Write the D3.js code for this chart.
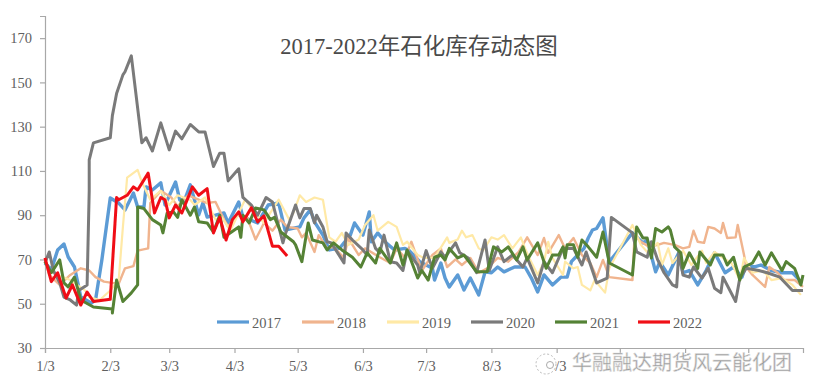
<!DOCTYPE html>
<html><head><meta charset="utf-8">
<script src="https://cdn.jsdelivr.net/npm/d3@7/dist/d3.min.js"></script>
<style>html,body{margin:0;padding:0;background:#fff}svg{display:block}</style>
</head><body><svg id="c" width="813" height="384"></svg>
<script>
const title="2017-2022年石化库存动态图";
const years=["2017","2018","2019","2020","2021","2022"];
const colors=["#5B9BD5","#F0B48E","#FFE9A6","#7A7A7A","#548235","#F00F16"];
const widths=[3.4,2.4,2.2,3,3,3];
const yTicks=[30,50,70,90,110,130,150,170];
// the labels after 9/3 sit under the watermark in the reference and cannot be seen
const xTickLabels=["1/3","2/3","3/3","4/3","5/3","6/3","7/3","8/3","9/3","","",""];
// days are counted from 3 January
const d2017=[0,3,6,9,11,14,17,22,24,27,31,35,38,42,44,47,48,51,55,57,62,64,66,69,73,75,77,81,85,87,92,94,101,106,111,114,121,123.5,126,128,132,135,140,145,147,151,154,155,158,162,166,171,173,178,184,185,188,190,192,196,199,202,206,209,212,215,218,223,228,231,234,237,241,245,248,250,253,256,258,260,262,265,268,279,284,286,290,292,296,301,303,306,310,314,318,323,327,331,333,337,340,345,350,355,359];
const v2017=[68.4,65.3,74.3,77,71.1,66.6,53,50.3,51.7,69.8,97.8,95.5,92.4,100,93.7,93.7,102.8,101.4,104.6,94.6,105,96.9,96,103.7,90.1,95.5,89.2,90,91,86.5,96,89.2,86.5,94.6,95.5,83.3,84.7,88.8,92.4,87,81,74.3,75.2,81,86.5,81,91.5,78,82,77.5,74.3,75,74,69,66,60.7,68.4,61.6,57.6,63,56.2,61.6,54,64.4,64,66.6,64.4,66.6,66.6,61.6,55.3,63,58.5,62,62,69,72,75,79.7,83.3,84,88.8,68.9,82,77.5,78.8,64.4,68.9,63,73,64,65,58.5,65,73,64,66.6,62,67.5,66.6,67.5,65,64,64,60];
const d2018=[0,2,7,12,17,21,24,28,35,38,42,44,49,50,55,60,63,68,73,77,81,85,87,91,96,100,104,108,112,115,120,122,124,128,130,134,137,142,144,149,152,159,164,167,171,174,177,179,184,188,191,195,198,202,206,210,215,220,225,229,234,237,239,244,247,251,255,259,262,265,268,279,280,283,287,291,294,299,303,306,308,310,313,315,318,321,322,324,328,329,332,333,336,342,344,348,351,356,360];
const v2018=[70,63,58.5,63,66,65,62,60,59,66,67,74,75,95.5,101,98,94,99,97,95.5,96,88,84.7,90,89,79,86.5,83,88,84.7,84,80,82,73.4,81,75,75.7,70.7,79.7,72,75,71,68.4,75,70.7,78,70,65,72,75,66.6,70,67.5,70.7,64,66,70.7,69,73.4,80,72,79.7,73,81,75,79.7,72,68.4,62,69.8,62,60.7,81,78,75.7,76.6,77.5,76.6,75,75.7,83,78,77.5,84.7,84,82,86.5,79.7,80,85.6,72,66.6,63,57.6,66.6,64,60.7,60.7,57.6];
const d2019=[0,2,6,12,19,21,26,31,35,37,39,44,46,50,55,59,63,69,71,76,81,84,88,95,99,104,111,116,118,121,124,128,132,135,138,141,144,149,152,156,158,163,167,170,172,177,180,185,191,192,196,198,200,203,206,208,212,215,218,222,226,228,230,234,237,239,241,246,247,251,253,255,259,261,266,268,279,283,286,291,293,296,298,303,307,312,314,318,322,326,330,332,336,341,345,350,355,359];
const v2019=[69,65,63,60.7,56,53,51.7,56,60.7,84.7,107,110.5,105,97,101,94.6,99,97,94.6,98,88,89,83,97,92,86.5,97,88,91,99,96,98,97,80,78,82,76.5,79,85.6,90,83,87,84.7,76.6,78,72,70.7,70.7,80,77.5,79,83,80,81,75,74,80,79,81,75,80,75,70.7,63,69,78,70.7,63,69,66,66.6,58.5,56,60.7,55,66,85.6,76.6,73.4,77.5,67.5,75,68.4,74,67.5,74,68.4,73.4,70.7,68.4,60.7,70.7,64,65,60.7,61.6,58.5,54];
const d2020=[0,2,4,7,9,12,15,16,20,21,21.5,23,31,32,34,37,38,41,46,48,51,55,59,62,65.5,69,73,76.5,80,83,85,87,92,94,98,101,105,108,113,114,119,121,123,126,128,129,132,134,136,142,143,146,151,153,154,157,159,161,164,167,170,172,177,178,181,184,188,190,195,197,201,205,209,211,215,218,222,227,229,234,237,241,246,251,255,257,262,267,269,279,281,286,288,291,294,298,300,301,303,306,308,312,315,318,321,322,328,330,333,339,343,349,355,360];
const v2020=[68.4,73.4,65,59.4,53,51.7,49.4,56,58.5,101,115,122.7,125,135,145,153.4,154.8,162,122.7,125,119,131.7,119.5,128,124.5,131,127.6,127.6,112,118,118,105.5,111,98,94.6,90,98,96,77.5,81,94.6,88.8,93,93,86.5,90,84.7,78,77.5,68.4,82,78.8,74.3,72,83.3,75,73,81,69,68.4,65,74,67.5,64,74,66,73.4,71,77.5,73,70.7,64,78.8,65,75.7,69,72,66.6,70.7,59.4,69,64,75,75,67.5,73.4,59.4,61.6,89,82,73.4,71,78,69.8,64,58.5,57.6,73,63,62,66.6,61.6,66,57,55,62,51,61.6,66,65,64,62,56,56];
const d2021=[0,3,7,9,11,14,17,23,32,32.5,34,37.5,41,44,44.5,47,51,55.5,56.5,58,61,63,65,69,71,73,77,80,83,85.5,92.6,93.6,94,97,100.7,104.5,107,109,112.6,118,119,122,125,127,132,134,137,141.5,146,150,153,157,159,164,167,170,172,177,179,182,185,188,190,192,196,199.5,205,210,213,217,220,224,227,229,234,238,241,244,246,247,248,251,253,255,258,262,265,268,279,281,284,286,288,290,293,296,297,299,302,303,306,310,311,316,318,322,324,327,330,332.5,336,339,342,345,350,352.5,356,359,360];
const v2021=[69,64,69.8,59.4,57.6,62,51.7,48.5,47.6,45.8,60.7,51,54.9,58.5,93.7,93,88,85.6,82,91,91.5,89,97,90,93.7,87,86.5,82.4,90,80,84.7,80,90,86.5,93.3,92.4,88,89,82.4,78,76.6,69,86.5,78.8,77.5,74.3,77.5,74.3,71,66.6,73,68.4,75,68.4,77.5,67.5,74.3,61.6,65,60.7,71,72,69.8,75,70.7,72,64.4,64.4,75.7,73.4,75.7,69.8,75.7,69.8,77.5,66,72,72,75.7,70.7,76.6,76.6,71,78.8,75.7,71,82.4,68.4,63,84.7,79.7,79.7,70.7,84,82.4,84.7,83.3,75.7,73,66,73,66,73.4,67.5,72,72,67.5,71,60.7,66.6,68.4,73.4,67.5,73,65,69,66,58.5,63];
const d2022=[0,3,6,10,13,17.5,20,23,31,34,35.6,39.4,42,44,49,52,55,57,59,62,65,70,73.6,77,80,83,86,89,92.6,94,98,101,104,108,111.6,115];
const v2022=[70.7,60,64,52.6,58.5,49.4,55.3,51,52,98,97,99,102.8,101.4,109,91,98,97,88.8,94.6,91,102.8,99,102,82,89,78.8,88,91.5,87,93.3,87,89.7,76,76,71.6];
const dayLists=[d2017,d2018,d2019,d2020,d2021,d2022];
const valueLists=[v2017,v2018,v2019,v2020,v2021,v2022];

const svg=d3.select("#c");
const serif="'Liberation Serif','Noto Sans CJK SC',serif";
const textCol="#5f5f5f", axisCol="#a8a8a8";
const base=new Date(2021,0,3);
const toDate=d=>new Date(2021,0,3+d);
const x=d3.scaleTime().domain([base,new Date(2021,11,29)]).range([45,803]);
const y=d3.scaleLinear().domain([30,180]).range([348,16]);

svg.append("defs").append("filter").attr("id","soft").append("feGaussianBlur").attr("stdDeviation",0.5);

// axes
const tickDates=d3.range(12).map(m=>new Date(2021,m,3));
const ax=svg.append("g").attr("transform","translate(0,348)")
  .call(d3.axisBottom(x).tickValues(tickDates).tickFormat((d,i)=>xTickLabels[i]).tickSize(5).tickPadding(8));
const ay=svg.append("g").attr("transform","translate(45,0)")
  .call(d3.axisLeft(y).tickValues(yTicks).tickSize(5).tickPadding(8));
[ax,ay].forEach(g=>{
  g.selectAll("path,line").attr("stroke",axisCol).attr("stroke-width",1.2);
  g.selectAll("text").attr("fill",textCol).attr("font-family",serif).attr("font-size",14.5);
});

// lines
const line=d3.line().x(p=>x(toDate(p[0]))).y(p=>y(p[1])).curve(d3.curveLinear);
const marks=svg.append("g").attr("filter","url(#soft)");
years.forEach((yr,i)=>{
  marks.append("path").datum(d3.zip(dayLists[i],valueLists[i])).attr("d",line)
    .attr("fill","none").attr("stroke",colors[i]).attr("stroke-width",widths[i]).attr("stroke-linejoin","round");
});

// title
svg.append("text").attr("x",419).attr("y",54).attr("text-anchor","middle")
  .attr("font-family",serif).attr("font-size",22.5).attr("fill","#4a4a4a").text(title);

// legend
const legendStart=[217,302,387,471,555,638];
years.forEach((yr,i)=>{
  svg.append("line").attr("x1",legendStart[i]).attr("x2",legendStart[i]+32).attr("y1",322).attr("y2",322)
    .attr("stroke",colors[i]).attr("stroke-width",3.2);
  svg.append("text").attr("x",legendStart[i]+35).attr("y",327.5).attr("font-family",serif)
    .attr("font-size",14.5).attr("fill",textCol).text(yr);
});

// watermark over the lower right tick labels
svg.append("circle").attr("cx",541).attr("cy",365).attr("r",14).attr("fill","#fff");
svg.append("circle").attr("cx",546).attr("cy",364).attr("r",10).attr("fill","#fff").attr("stroke","#bbb").attr("stroke-dasharray","2 2");
svg.append("circle").attr("cx",550).attr("cy",365).attr("r",3.5).attr("fill","#fff").attr("stroke","#aaa");
svg.append("text").attr("x",572).attr("y",370).attr("font-family","'Noto Sans CJK SC',sans-serif")
  .attr("font-size",20).attr("fill","#9a9a9a").attr("stroke","#e4e4e4").attr("stroke-width",0.5)
  .text("华融融达期货风云能化团");
</script></body></html>
